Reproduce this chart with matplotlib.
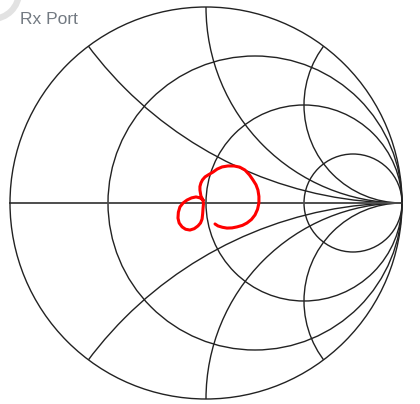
import numpy as np
import matplotlib.pyplot as plt
from matplotlib.patches import Circle

# Smith chart grid values
r_values = [1 / 3, 1, 3]
x_values = [0.5, 1, 2]

# Measured reflection coefficient trace (real, imag)
gamma_re = [0.046, 0.061, 0.084, 0.107, 0.133, 0.158, 0.186, 0.209, 0.232, 0.250, 0.263, 0.270,
            0.270, 0.265, 0.255, 0.240, 0.222, 0.199, 0.172, 0.143, 0.112, 0.082, 0.057,
            0.036, 0.014, -0.005, -0.018, -0.026, -0.031, -0.031, -0.026, -0.015, -0.013,
            -0.015, -0.017, -0.020, -0.028, -0.041, -0.060, -0.082, -0.104, -0.122, -0.137,
            -0.143, -0.141, -0.133, -0.117, -0.097, -0.074, -0.051, -0.030, -0.015]
gamma_im = [-0.107, -0.117, -0.124, -0.128, -0.127, -0.122, -0.114, -0.102, -0.084, -0.061, -0.032, 0.000,
            0.034, 0.066, 0.093, 0.117, 0.143, 0.168, 0.183, 0.189, 0.189, 0.184, 0.173,
            0.158, 0.145, 0.133, 0.118, 0.102, 0.084, 0.066, 0.036, 0.015, -0.005,
            -0.026, -0.055, -0.082, -0.102, -0.117, -0.131, -0.138, -0.134, -0.122, -0.102,
            -0.077, -0.047, -0.020, 0.000, 0.015, 0.026, 0.031, 0.026, 0.015]

title = "Rx Port"

GRID = '#222222'
R_PX = 196.0


def main():
    fig = plt.figure(figsize=(4.2, 4.04), dpi=100)
    ax = fig.add_axes([0, 0, 1, 1])
    ax.set_xlim(-206 / R_PX, 214 / R_PX)
    ax.set_ylim(-201 / R_PX, 203 / R_PX)
    ax.axis('off')

    # faint ring in the corner
    ax.add_patch(Circle((-214 / R_PX, 211 / R_PX), 27 / R_PX, fill=False,
                        ec='#e2e2e2', lw=4.5))

    outer = Circle((0, 0), 1, fill=False, ec=GRID, lw=1.0, zorder=3)
    ax.add_patch(outer)

    # constant resistance circles
    for r in r_values:
        ax.add_patch(Circle((r / (1 + r), 0), 1 / (1 + r), fill=False,
                            ec=GRID, lw=1.0, zorder=2))

    # constant reactance arcs, clipped to the unit circle
    for x in x_values:
        for s in (1, -1):
            c = Circle((1, s / x), 1 / x, fill=False, ec=GRID, lw=1.0, zorder=2)
            ax.add_patch(c)
            c.set_clip_path(outer)

    ax.plot([-1, 1], [0, 0], color='#4d4d4d', lw=1.4, zorder=2)

    ax.plot(gamma_re, gamma_im, color='#ff0000', lw=2.2, zorder=4,
            solid_capstyle='round', solid_joinstyle='round')

    fig.text(20 / 420, 1 - 24 / 404, title, color='#737a82', fontsize=12.5,
             family='Liberation Sans', va='baseline', ha='left')

    fig.savefig('out.png', dpi=100)


if __name__ == '__main__':
    main()
